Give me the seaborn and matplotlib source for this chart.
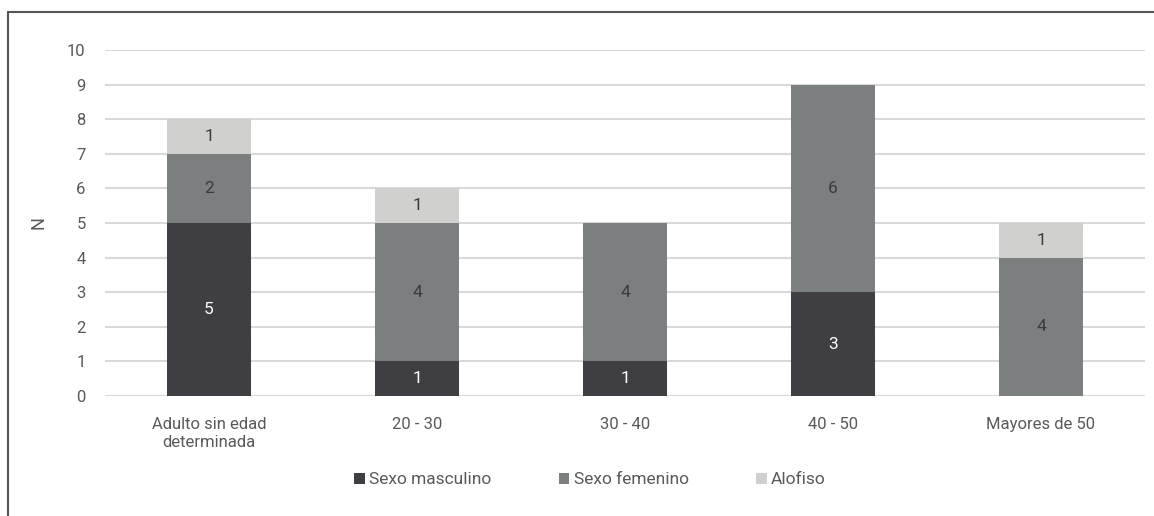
import matplotlib
matplotlib.use("Agg")
import matplotlib.pyplot as plt
import seaborn as sns
import pandas as pd
from matplotlib.lines import Line2D
from matplotlib.patches import Patch

categories = ["Adulto sin edad\ndeterminada", "20 - 30", "30 - 40", "40 - 50", "Mayores de 50"]
masculino = [5, 1, 1, 3, 0]
femenino = [2, 4, 4, 6, 4]
alofiso = [1, 1, 0, 0, 1]
series_names = ["Sexo masculino", "Sexo femenino", "Alofiso"]
colors = ["#3f3e43", "#7c7f7f", "#d0d0cf"]
label_colors = ["white", "#3a3a3a", "#3a3a3a"]

sns.set_theme(style="white")
plt.rcParams['font.family'] = ['Roboto', 'DejaVu Sans']

fig = plt.figure(figsize=(11.54, 5.16), dpi=100)
ax = fig.add_axes([105/1154, 1-396/516, (1145-105)/1154, (396-50)/516])

df = pd.DataFrame({"cat": categories, "m": masculino, "f": femenino, "a": alofiso})
bottoms = [0]*len(categories)
for key, name, col, lc in zip(["m", "f", "a"], series_names, colors, label_colors):
    vals = df[key].tolist()
    sns.barplot(data=df, x="cat", y=key, color=col, width=0.4, bottom=bottoms,
                ax=ax, order=categories, saturation=1, zorder=3, linewidth=0,
                edgecolor="none")
    for i, v in enumerate(vals):
        if v > 0:
            ax.text(i, bottoms[i] + v/2, str(v), ha="center", va="center",
                    color=lc, fontsize=12.5, zorder=4)
    bottoms = [b + v for b, v in zip(bottoms, vals)]

ax.set_ylim(0, 10)
ax.set_xlim(-0.5, 4.5)
ax.set_yticks(range(0, 11))
ax.yaxis.grid(True, color="#d9d9d9", linewidth=1.5, zorder=0)
ax.set_axisbelow(True)
for s in ax.spines.values():
    s.set_visible(False)
ax.tick_params(axis="both", length=0, colors="#595959", labelsize=12)
ax.tick_params(axis="x", pad=15)
ax.tick_params(axis="y", pad=14)
for lbl in ax.get_xticklabels():
    lbl.set_linespacing(1.25)
ax.set_xlabel("")
ax.set_ylabel("N", color="#595959", fontsize=13, labelpad=14)

handles = [Patch(facecolor=c, edgecolor="none") for c in colors]
fig.legend(handles, series_names, loc="center", bbox_to_anchor=(590/1154, 1-480/516),
           ncol=3, frameon=False, handlelength=0.6, handleheight=0.6,
           handletextpad=0.25, columnspacing=3.9,
           prop={"size": 12.5}, labelcolor="#595959")

fig.add_artist(Line2D([8/1154, 8/1154], [0, 1-12/516], color="#555555", lw=1.5,
                      transform=fig.transFigure))
fig.add_artist(Line2D([8/1154, 1], [1-12/516, 1-12/516], color="#555555", lw=1.5,
                      transform=fig.transFigure))

fig.savefig("out.png", dpi=100)
